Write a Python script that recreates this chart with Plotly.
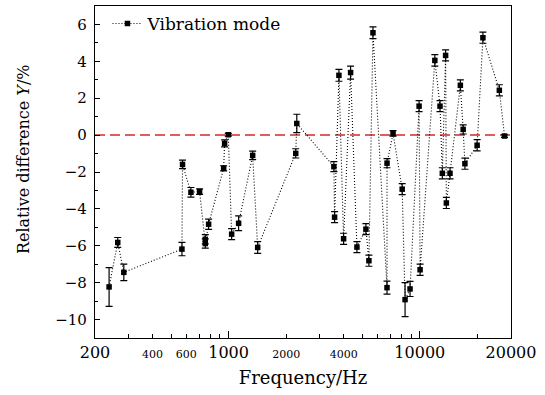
import math
import plotly.graph_objects as go

# Data
freq_hz = [237, 263, 283, 570, 574, 635, 705, 755, 755, 786, 942, 953, 996, 1037, 1128,
           1336, 1419, 2244, 2273, 3553, 3583, 3776, 3995, 4346, 4690, 5226, 5418, 5690,
           6738, 6740, 7244, 8090, 8375, 8893, 9916, 10037, 11987, 12760, 13120, 13650,
           13770, 14390, 16300, 16860, 17220, 19950, 21390, 26070, 27750]
rel_diff = [-8.23, -5.82, -7.44, -6.18, -1.59, -3.10, -3.06, -5.65, -5.88, -4.83, -1.80,
            -0.45, 0.02, -5.37, -4.78, -1.10, -6.09, -0.99, 0.63, -1.71, -4.45, 3.24,
            -5.62, 3.39, -6.07, -5.10, -6.81, 5.55, -8.27, -1.52, 0.09, -2.93, -8.92,
            -8.34, 1.57, -7.30, 4.05, 1.57, -2.07, 4.32, -3.68, -2.07, 2.70, 0.31, -1.55,
            -0.55, 5.28, 2.43, -0.05]
err = [1.05, 0.27, 0.45, 0.36, 0.23, 0.26, 0.15, 0.25, 0.25, 0.28, 0.14, 0.19, 0.07,
       0.30, 0.40, 0.23, 0.32, 0.25, 0.50, 0.27, 0.30, 0.32, 0.30, 0.35, 0.30, 0.30,
       0.30, 0.32, 0.35, 0.25, 0.15, 0.30, 0.92, 0.41, 0.30, 0.30, 0.31, 0.30, 0.30,
       0.30, 0.30, 0.30, 0.30, 0.25, 0.30, 0.30, 0.30, 0.30, 0.07]
assert len(freq_hz) == len(rel_diff) == len(err)

x_tickvals = [200, 400, 600, 1000, 2000, 4000, 10000, 30000]
x_ticklabels = ["200", "400", "600", "1000", "2000", "4000", "10000", "20000"]
small_labels = {"400", "600", "2000", "4000"}
x_minor_vals = [300, 500, 700, 800, 900, 3000, 5000, 6000, 7000, 8000, 9000, 20000]
x_major_long = [1000, 10000]
y_tickvals = [-10, -8, -6, -4, -2, 0, 2, 4, 6]

FONT = "DejaVu Serif"
ticktext = [f"<span style='font-size:11px'>{t}</span>" if t in small_labels else t
            for t in x_ticklabels]

fig = go.Figure()
fig.add_trace(go.Scatter(
    x=freq_hz, y=rel_diff, mode="lines+markers", name="Vibration mode",
    line=dict(color="black", width=1.1, dash="1px,2px"),
    marker=dict(symbol="square", size=5.5, color="black"),
    error_y=dict(type="data", array=err, visible=True, color="black",
                 thickness=1.2, width=3.5),
))
# invisible helper trace for the long major ticks axis
fig.add_trace(go.Scatter(x=[x_major_long[0]], y=[0], xaxis="x2", mode="markers",
                         marker=dict(opacity=0), showlegend=False, hoverinfo="skip"))

fig.add_shape(type="line", xref="paper", yref="y", x0=0, x1=1, y0=0, y1=0,
              line=dict(color="#d42a2a", width=1.5, dash="10px,5px"), layer="below")

fig.add_annotation(text="Relative difference <i>Y</i>/%", textangle=-90,
                   xref="paper", yref="paper", x=-0.173, y=0.539,
                   xanchor="center", yanchor="middle", showarrow=False,
                   font=dict(size=16))

xr = [math.log10(200), math.log10(30000)]

fig.update_layout(
    width=545, height=395,
    margin=dict(l=95, r=34, t=6, b=57),
    paper_bgcolor="white", plot_bgcolor="white",
    font=dict(family=FONT, size=15, color="black"),
    showlegend=True,
    legend=dict(x=0.03, y=1.0, xanchor="left", yanchor="top", bgcolor="rgba(0,0,0,0)",
                font=dict(size=17), itemwidth=30),
    xaxis=dict(
        type="log", range=xr, tickmode="array", tickvals=x_tickvals, ticktext=ticktext,
        ticks="inside", ticklen=4, tickwidth=1, tickcolor="black",
        showline=True, linecolor="black", linewidth=1.2, mirror=True,
        showgrid=False, zeroline=False, tickfont=dict(size=16),
        minor=dict(tickmode="array", tickvals=x_minor_vals, ticks="inside",
                   ticklen=4, tickwidth=1, tickcolor="black", showgrid=False),
        title=dict(text="Frequency/Hz", font=dict(size=18), standoff=10),
    ),
    xaxis2=dict(
        type="log", range=xr, overlaying="x", anchor="y", side="bottom",
        tickmode="array", tickvals=x_major_long, showticklabels=False,
        ticks="inside", ticklen=7, tickwidth=1, tickcolor="black",
        showline=False, showgrid=False, zeroline=False,
    ),
    yaxis=dict(
        range=[-11, 7], tickmode="array", tickvals=y_tickvals,
        ticks="inside", ticklen=5, tickwidth=1, tickcolor="black",
        showline=True, linecolor="black", linewidth=1.2, mirror=True,
        showgrid=False, zeroline=False, tickfont=dict(size=15),
        ticklabelstandoff=4,
        minor=dict(dtick=1, ticks="inside", ticklen=3, tickwidth=1, tickcolor="black",
                   showgrid=False),
    ),
)

fig.write_html("out.html")
